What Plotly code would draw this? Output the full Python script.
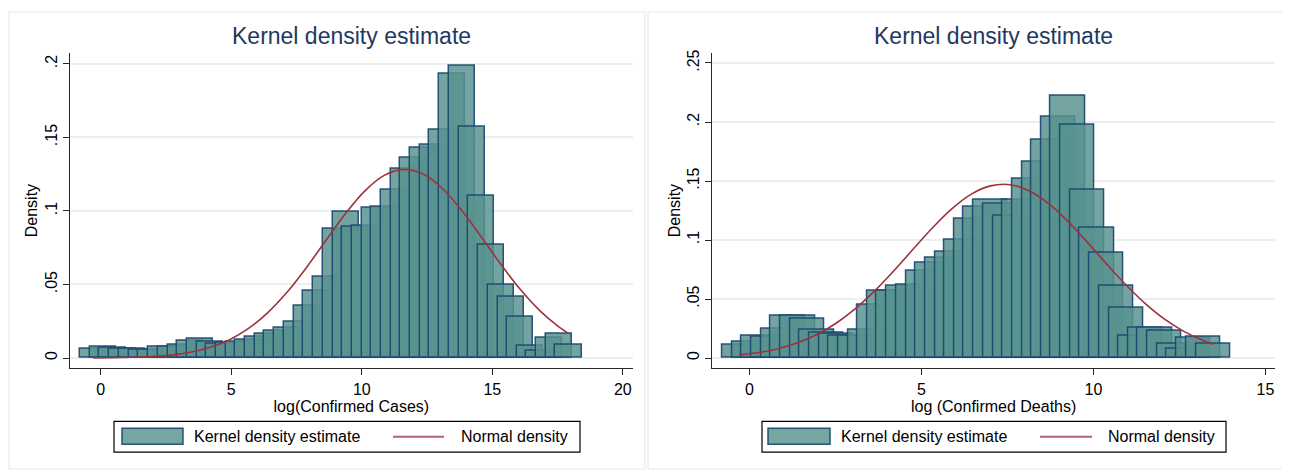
import plotly.graph_objects as go

# ---------------- data ----------------
# Left panel: log(Confirmed Cases)
cases_x = [-0.29, 0.08, 0.45, 0.83, 1.20, 1.57, 1.94, 2.31, 2.68, 3.06,
           3.43, 3.80, 4.17, 4.54, 4.92, 5.29, 5.66, 6.03, 6.40, 6.77,
           7.15, 7.52, 7.89, 8.26, 8.63, 9.00, 9.38, 9.75, 10.12, 10.49,
           10.86, 11.24, 11.61, 11.98, 12.35, 12.72, 13.09, 13.47, 13.84, 14.21,
           14.58, 14.95, 15.33, 15.70, 16.07, 16.44, 16.81, 17.18, 17.55, 17.92]
cases_kde = [0.0061, 0.0074, 0.0068, 0.0061, 0.0061, 0.0054, 0.0058, 0.0074, 0.0074, 0.0090,
             0.0115, 0.0133, 0.0110, 0.0099, 0.0106, 0.0113, 0.0126, 0.0144, 0.0163, 0.0183,
             0.0208, 0.0250, 0.0358, 0.0459, 0.0554, 0.0878, 0.0997, 0.0892, 0.0899, 0.1020,
             0.1027, 0.1146, 0.1284, 0.1362, 0.1431, 0.1453, 0.1554, 0.1932, 0.1986, 0.1572,
             0.1101, 0.0768, 0.0500, 0.0416, 0.0284, 0.0081, 0.0047, 0.0135, 0.0162, 0.0088]
cases_norm_x = [-0.29, 0.45, 1.20, 1.94, 2.68, 3.43, 4.17, 4.92, 5.66, 6.40,
                7.15, 7.89, 8.63, 9.38, 10.12, 10.86, 11.61, 12.35, 13.09, 13.84,
                14.58, 15.33, 16.07, 16.81, 17.55, 17.92]
cases_norm = [0.0001, 0.0002, 0.0005, 0.0010, 0.0020, 0.0039, 0.0071, 0.0123, 0.0201, 0.0309,
              0.0450, 0.0618, 0.0801, 0.0983, 0.1137, 0.1242, 0.1283, 0.1251, 0.1153, 0.1001,
              0.0823, 0.0637, 0.0467, 0.0324, 0.0212, 0.0168]

# Right panel: log (Confirmed Deaths)
deaths_x = [-0.29, -0.01, 0.27, 0.55, 0.83, 1.11, 1.40, 1.68, 1.96, 2.24,
            2.52, 2.80, 3.08, 3.36, 3.64, 3.92, 4.20, 4.49, 4.77, 5.05,
            5.33, 5.61, 5.89, 6.17, 6.45, 6.73, 7.01, 7.29, 7.58, 7.86,
            8.14, 8.42, 8.70, 8.98, 9.26, 9.54, 9.82, 10.10, 10.38, 10.67,
            10.95, 11.23, 11.51, 11.79, 12.07, 12.35, 12.63, 12.91, 13.19, 13.48]
deaths_kde = [0.0112, 0.0140, 0.0193, 0.0177, 0.0249, 0.0362, 0.0362, 0.0337, 0.0236, 0.0216,
              0.0205, 0.0193, 0.0188, 0.0244, 0.0454, 0.0572, 0.0572, 0.0614, 0.0623, 0.0736,
              0.0806, 0.0853, 0.0899, 0.1001, 0.1178, 0.1279, 0.1345, 0.1305, 0.1209, 0.1344,
              0.1523, 0.1667, 0.1852, 0.2045, 0.2219, 0.1975, 0.1422, 0.1100, 0.0895, 0.0614,
              0.0429, 0.0193, 0.0255, 0.0258, 0.0233, 0.0120, 0.0081, 0.0168, 0.0182, 0.0118]
deaths_norm_x = [-0.29, 0.27, 0.83, 1.40, 1.96, 2.52, 3.08, 3.64, 4.20, 4.77,
                 5.33, 5.89, 6.45, 7.01, 7.58, 8.14, 8.70, 9.26, 9.82, 10.38,
                 10.95, 11.51, 12.07, 12.63, 13.19, 13.48]
deaths_norm = [0.0027, 0.0047, 0.0079, 0.0129, 0.0199, 0.0295, 0.0418, 0.0569, 0.0740, 0.0926,
               0.1106, 0.1266, 0.1389, 0.1459, 0.1469, 0.1416, 0.1308, 0.1158, 0.0982, 0.0798,
               0.0619, 0.0461, 0.0329, 0.0226, 0.0148, 0.0117]

bar_width = 1.0

left_xticks = [0, 5, 10, 15, 20]
left_yticks = [0, 0.05, 0.1, 0.15, 0.2]
left_yticklabels = ["0", ".05", ".1", ".15", ".2"]
right_xticks = [0, 5, 10, 15]
right_yticks = [0, 0.05, 0.1, 0.15, 0.2, 0.25]
right_yticklabels = ["0", ".05", ".1", ".15", ".2", ".25"]

title_text = "Kernel density estimate"
left_xtitle = "log(Confirmed Cases)"
right_xtitle = "log (Confirmed Deaths)"
ytitle = "Density"
legend_labels = ["Kernel density estimate", "Normal density"]

# ---------------- styles ----------------
OFF = 8                      # default page margin of the browser
W, H = 1290 - OFF, 471 - OFF
FONT = "Liberation Sans, Arial, sans-serif"
BAR_FILL = "rgba(88,146,143,0.84)"
BAR_LINE = "rgba(26,71,111,0.92)"
RED = "rgb(158,50,60)"
TITLE_COL = "rgb(30,57,97)"
GRID = "rgb(234,240,242)"

def px(x):
    return (x - OFF) / W

def py(y):
    return 1 - (y - OFF) / H

fig = go.Figure()

# Left panel
fig.add_trace(go.Bar(x=cases_x, y=cases_kde, width=[bar_width] * len(cases_x),
                     marker=dict(color=BAR_FILL, line=dict(color=BAR_LINE, width=1.5)),
                     xaxis="x", yaxis="y", showlegend=False))
fig.add_trace(go.Scatter(x=cases_norm_x, y=cases_norm, mode="lines",
                         line=dict(color=RED, width=1.6, shape="spline"),
                         xaxis="x", yaxis="y", showlegend=False))
# Right panel
fig.add_trace(go.Bar(x=deaths_x, y=deaths_kde, width=[bar_width] * len(deaths_x),
                     marker=dict(color=BAR_FILL, line=dict(color=BAR_LINE, width=1.5)),
                     xaxis="x2", yaxis="y2", showlegend=False))
fig.add_trace(go.Scatter(x=deaths_norm_x, y=deaths_norm, mode="lines",
                         line=dict(color=RED, width=1.6, shape="spline"),
                         xaxis="x2", yaxis="y2", showlegend=False))

ydom = [py(367.7), py(50)]
axis_common = dict(showline=True, linecolor="rgb(40,40,40)", linewidth=1.2,
                   ticks="outside", ticklen=6, tickcolor="rgb(40,40,40)",
                   tickfont=dict(family=FONT, size=16, color="black"),
                   zeroline=False)

fig.update_layout(
    width=W, height=H,
    margin=dict(l=0, r=0, t=0, b=0),
    paper_bgcolor="white", plot_bgcolor="white",
    barmode="overlay", bargap=0,
    font=dict(family=FONT, color="black"),
    xaxis=dict(domain=[px(70), px(632.7)], range=[-1.18, 20.38], anchor="y",
               tickvals=left_xticks, showgrid=False,
               title=dict(text=left_xtitle, font=dict(family=FONT, size=16), standoff=1),
               **axis_common),
    yaxis=dict(domain=ydom, range=[-0.00703, 0.2076], anchor="x",
               tickvals=left_yticks, ticktext=left_yticklabels, tickangle=-90,
               showgrid=True, gridcolor=GRID, gridwidth=1.5,
               title=dict(text=ytitle, font=dict(family=FONT, size=16), standoff=0),
               **axis_common),
    xaxis2=dict(domain=[px(712.3), px(1275)], range=[-1.08, 15.28], anchor="y2",
                tickvals=right_xticks, showgrid=False,
                title=dict(text=right_xtitle, font=dict(family=FONT, size=16), standoff=1),
                **axis_common),
    yaxis2=dict(domain=ydom, range=[-0.00875, 0.2587], anchor="x2",
                tickvals=right_yticks, ticktext=right_yticklabels, tickangle=-90,
                showgrid=True, gridcolor=GRID, gridwidth=1.5,
                title=dict(text=ytitle, font=dict(family=FONT, size=16), standoff=0),
                **axis_common),
)

shapes = []
annotations = []

# panel frames
for (x0, x1) in [(9, 645), (648, 1287)]:
    shapes.append(dict(type="rect", xref="paper", yref="paper",
                       x0=px(x0), x1=px(x1), y0=py(469), y1=py(9),
                       line=dict(color="rgb(228,236,240)", width=1.2), layer="below"))

# titles
for cx in [351.3, 993.6]:
    annotations.append(dict(text=title_text, x=px(cx), y=py(33), xref="paper", yref="paper",
                            showarrow=False, xanchor="center", yanchor="middle",
                            font=dict(family=FONT, size=23, color=TITLE_COL)))

# manual legends
for (bx0, bx1, sw0, sw1, t1, l0, l1, t2) in [
        (114, 580, 122, 183, 192, 393, 444, 459),
        (762, 1226, 768, 830, 839, 1040, 1092, 1106)]:
    shapes.append(dict(type="rect", xref="paper", yref="paper",
                       x0=px(bx0), x1=px(bx1), y0=py(452), y1=py(421),
                       line=dict(color="black", width=1.2), fillcolor="white"))
    shapes.append(dict(type="rect", xref="paper", yref="paper",
                       x0=px(sw0), x1=px(sw1), y0=py(444), y1=py(428),
                       line=dict(color=BAR_LINE, width=1.5), fillcolor="rgb(118,166,162)"))
    shapes.append(dict(type="line", xref="paper", yref="paper",
                       x0=px(l0), x1=px(l1), y0=py(436.5), y1=py(436.5),
                       line=dict(color="rgb(180,100,110)", width=2)))
    annotations.append(dict(text=legend_labels[0], x=px(t1), y=py(436.5), xref="paper", yref="paper",
                            showarrow=False, xanchor="left", yanchor="middle",
                            font=dict(family=FONT, size=16, color="black")))
    annotations.append(dict(text=legend_labels[1], x=px(t2), y=py(436.5), xref="paper", yref="paper",
                            showarrow=False, xanchor="left", yanchor="middle",
                            font=dict(family=FONT, size=16, color="black")))

fig.update_layout(shapes=shapes, annotations=annotations)

fig.write_html("out.html")
